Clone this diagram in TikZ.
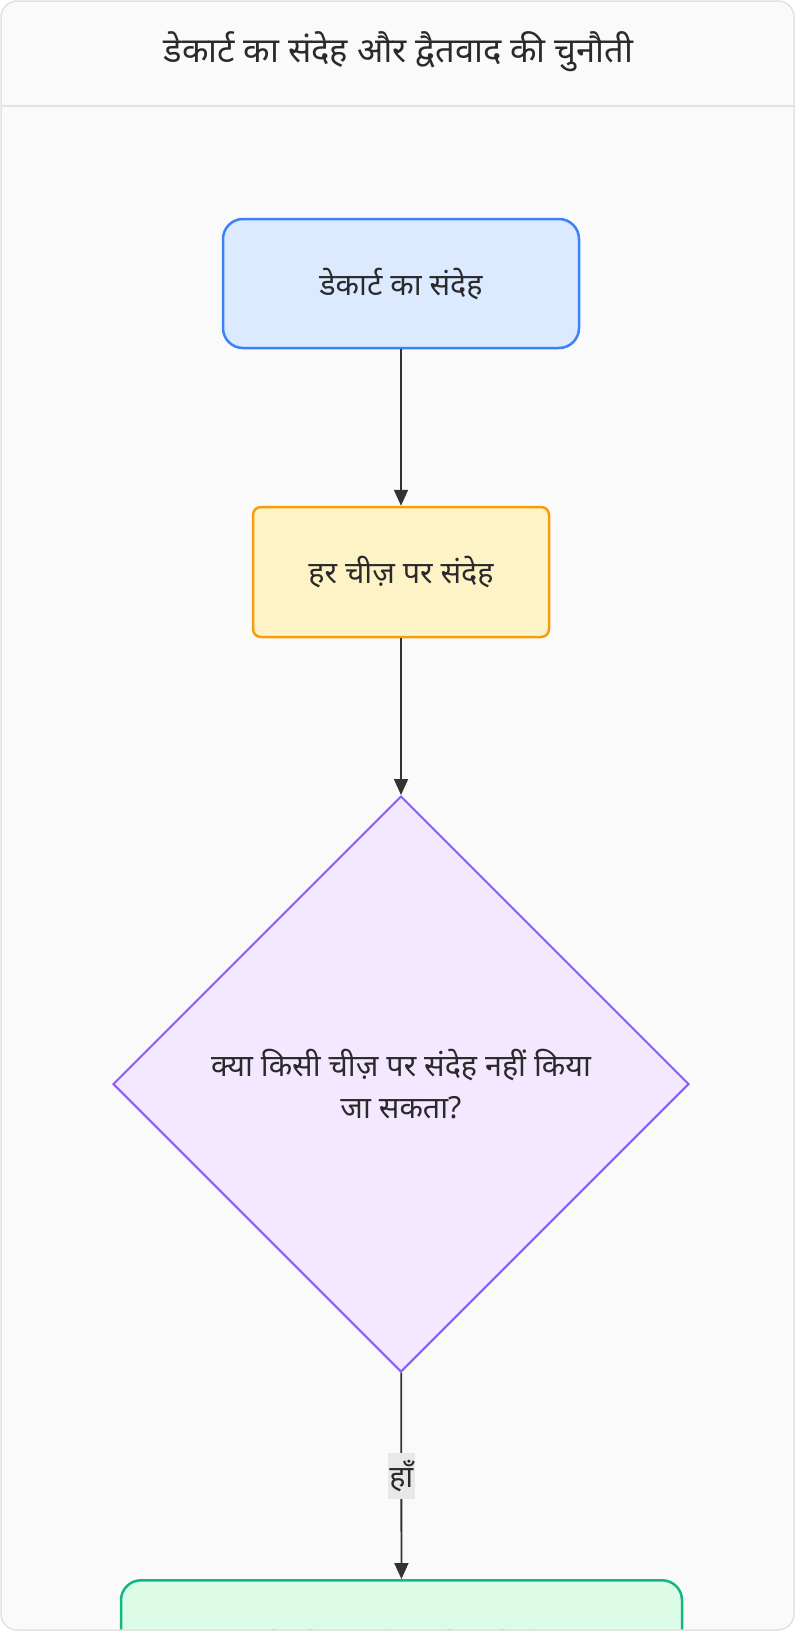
\documentclass[tikz,border=0pt]{standalone}
\usepackage{fontspec}
\setmainfont[Script=Devanagari]{Noto Sans}
\usetikzlibrary{shapes.geometric,arrows.meta}
\definecolor{framebg}{HTML}{FAFAFA}
\definecolor{framestroke}{HTML}{E2E2E2}
\definecolor{txt}{HTML}{2A2A2A}
\definecolor{edgecol}{HTML}{333333}
\definecolor{bluefill}{HTML}{DBEAFE}
\definecolor{bluestroke}{HTML}{3B82F6}
\definecolor{yelfill}{HTML}{FEF3C7}
\definecolor{yelstroke}{HTML}{F59E0B}
\definecolor{purfill}{HTML}{F3E8FF}
\definecolor{purstroke}{HTML}{8B5CF6}
\definecolor{grnfill}{HTML}{DCFCE7}
\definecolor{grnstroke}{HTML}{10B981}
\definecolor{lblfill}{HTML}{E8E8E8}
\tikzset{
  nodetext/.style={text=txt, font=\fontsize{30.5}{41.6}\selectfont, align=center, inner sep=0pt},
  startbox/.style={nodetext, draw=bluestroke, fill=bluefill, line width=2.5pt, rounded corners=20pt, minimum width=356pt, minimum height=129pt},
  stepbox/.style={nodetext, draw=yelstroke, fill=yelfill, line width=2.5pt, rounded corners=8pt, minimum width=296pt, minimum height=130pt},
  decbox/.style={nodetext, diamond, aspect=1, draw=purstroke, fill=purfill, line width=2pt, minimum width=576pt, minimum height=576pt},
  endbox/.style={nodetext, draw=grnstroke, fill=grnfill, line width=2.5pt, rounded corners=20pt, minimum width=561pt, minimum height=137pt},
  edge/.style={draw=edgecol, line width=1.8pt, -{Triangle[width=14pt,length=16pt]}},
  lbl/.style={nodetext, fill=lblfill, minimum width=27pt, minimum height=46pt},
}
\begin{document}
\begin{tikzpicture}[x=1pt,y=-1pt]
\useasboundingbox (0,0) rectangle (795,1631);
\path[fill=framebg, rounded corners=16pt] (1,1) rectangle (794,1630);
\draw[framestroke, line width=1.5pt] (1,106) -- (794,106);
\node[text=txt, font=\fontsize{34.5}{40}\selectfont, inner sep=0pt] (title) at (398.5,52) {डेकार्ट का संदेह और द्वैतवाद की चुनौती};
\node[startbox] (n1) at (401,283.5) {डेकार्ट का संदेह};
\node[stepbox] (n2) at (401,572) {हर चीज़ पर संदेह};
\node[decbox] (d) at (401,1084) {क्या किसी चीज़ पर संदेह नहीं किया\\जा सकता?};
\node[endbox, anchor=north] (n3) at (401.5,1579) {मैं सोचता हूँ, इसलिए मैं हूँ};
\draw[edge] (n1) -- (n2);
\draw[edge] (n2) -- (d);
\draw[edge] (d) -- node[lbl] (lab) {हाँ} (n3);
\draw[framestroke, line width=1.5pt, rounded corners=16pt] (1,1) rectangle (794,1630);
\end{tikzpicture}
\end{document}
